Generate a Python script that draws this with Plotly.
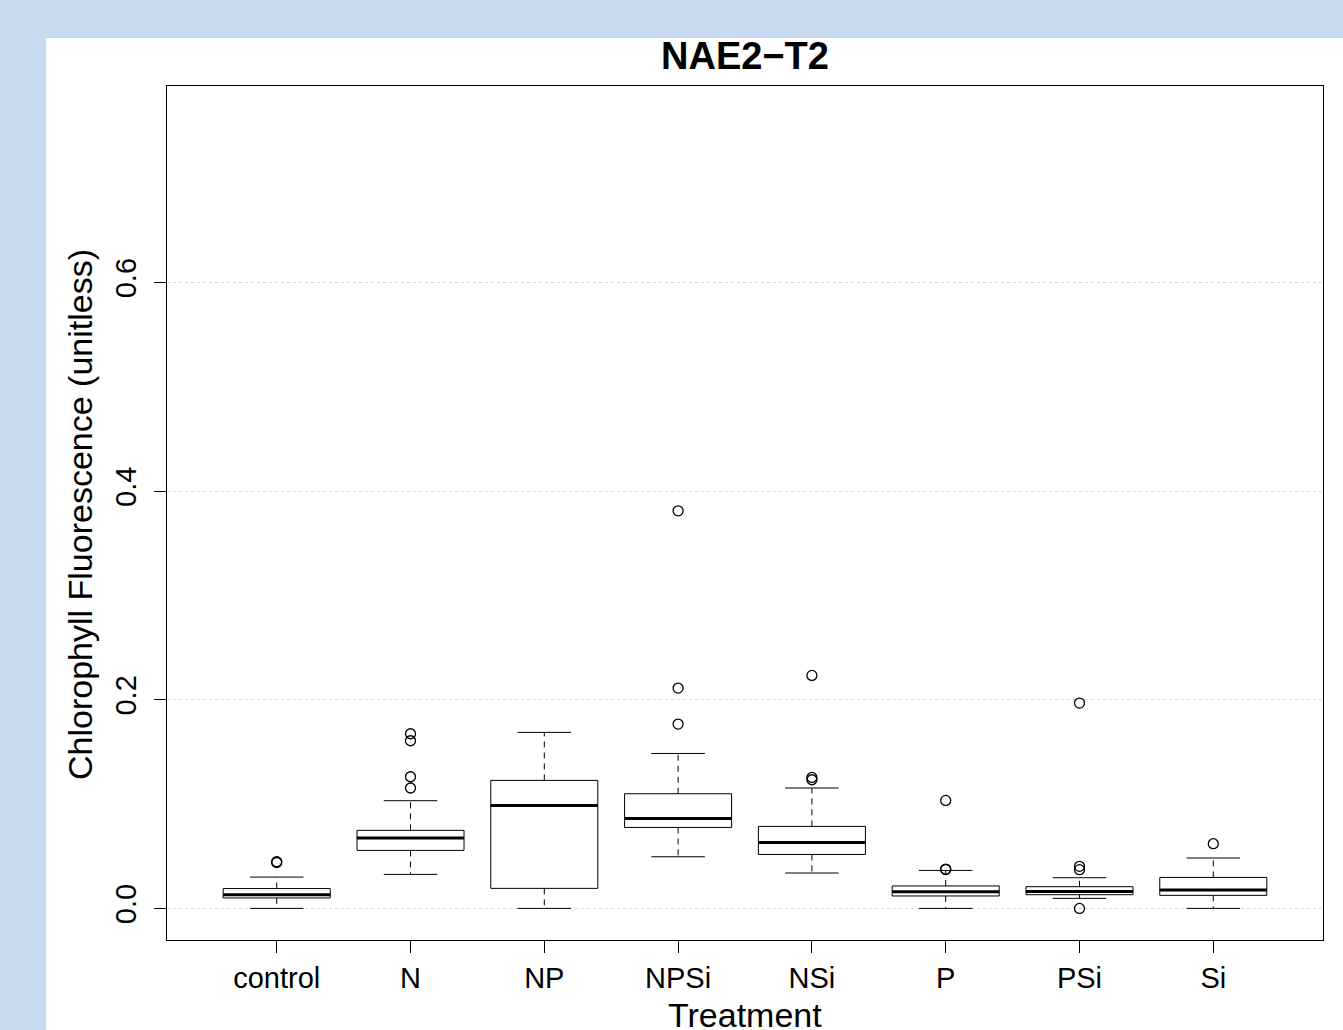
import plotly.graph_objects as go

categories = ["control", "N", "NP", "NPSi", "NSi", "P", "PSi", "Si"]
lower_whisker = [0.000, 0.0326, 0.000, 0.0495, 0.0339, 0.000, 0.0096, 0.000]
q1 = [0.0100, 0.0556, 0.0192, 0.0776, 0.0517, 0.0119, 0.0131, 0.0125]
median = [0.0130, 0.0675, 0.0987, 0.0862, 0.0632, 0.0160, 0.0163, 0.0176]
q3 = [0.0190, 0.0748, 0.1227, 0.1099, 0.0786, 0.0215, 0.0208, 0.0297]
upper_whisker = [0.0300, 0.1032, 0.1687, 0.1485, 0.1154, 0.0364, 0.0294, 0.0483]
outliers = {
    "control": [0.0440, 0.0448],
    "N": [0.1154, 0.1262, 0.1607, 0.1674],
    "NP": [],
    "NPSi": [0.1767, 0.2112, 0.3811],
    "NSi": [0.1233, 0.1255, 0.2233],
    "P": [0.0372, 0.0377, 0.1035],
    "PSi": [0.0000, 0.0371, 0.0403, 0.1968],
    "Si": [0.0620],
}
y_ticks = [0.0, 0.2, 0.4, 0.6]
y_tick_labels = ["0.0", "0.2", "0.4", "0.6"]

pos = list(range(1, len(categories) + 1))
BOX_HALF = 0.4
STAPLE_HALF = 0.2
FONT = "Liberation Sans, Arial, Helvetica, sans-serif"

fig = go.Figure()

# box bodies
fig.add_trace(go.Box(
    x=pos, q1=q1, median=median, q3=q3,
    lowerfence=q1, upperfence=q3,
    width=2 * BOX_HALF, whiskerwidth=0,
    line=dict(color="black", width=1), fillcolor="white",
    boxpoints=False, showlegend=False, hoverinfo="skip",
))

# whiskers (dashed)
wx, wy = [], []
for p, lo, a, b, hi in zip(pos, lower_whisker, q1, q3, upper_whisker):
    wx += [p, p, None, p, p, None]
    wy += [b, hi, None, a, lo, None]
fig.add_trace(go.Scatter(x=wx, y=wy, mode="lines",
                         line=dict(color="black", width=1, dash="6px,5px"),
                         showlegend=False, hoverinfo="skip"))

# staples
sx, sy = [], []
for p, lo, hi in zip(pos, lower_whisker, upper_whisker):
    sx += [p - STAPLE_HALF, p + STAPLE_HALF, None, p - STAPLE_HALF, p + STAPLE_HALF, None]
    sy += [hi, hi, None, lo, lo, None]
fig.add_trace(go.Scatter(x=sx, y=sy, mode="lines",
                         line=dict(color="black", width=1),
                         showlegend=False, hoverinfo="skip"))

# thick medians
mx, my = [], []
for p, m in zip(pos, median):
    mx += [p - BOX_HALF, p + BOX_HALF, None]
    my += [m, m, None]
fig.add_trace(go.Scatter(x=mx, y=my, mode="lines",
                         line=dict(color="black", width=3),
                         showlegend=False, hoverinfo="skip"))

# outliers
ox, oy = [], []
for p, c in zip(pos, categories):
    for v in outliers[c]:
        ox.append(p)
        oy.append(v)
fig.add_trace(go.Scatter(x=ox, y=oy, mode="markers",
                         marker=dict(symbol="circle-open", size=10, color="black",
                                     line=dict(width=1.3, color="black")),
                         showlegend=False))

fig.update_layout(
    width=1343, height=1030,
    margin=dict(l=167, r=20, t=86, b=90),
    paper_bgcolor="#c8daf0",
    plot_bgcolor="white",
    font=dict(family=FONT, color="black", size=29),
    showlegend=False,
    shapes=[dict(type="rect", xref="paper", yref="paper",
                 x0=(46 - 167) / 1156, x1=1.1, y0=-0.2, y1=1 + (86 - 38) / 854,
                 fillcolor="white", line=dict(width=0), layer="below")],
    annotations=[
        dict(text="<b>NAE2−T2</b>", xref="paper", yref="paper", x=0.5,
             y=1 + (86 - 56) / 854, xanchor="center", yanchor="middle",
             showarrow=False, font=dict(size=38, family=FONT)),
        dict(text="Treatment", xref="paper", yref="paper", x=0.5,
             y=1 - (1015 - 86) / 854, xanchor="center", yanchor="middle",
             showarrow=False, font=dict(size=34, family=FONT)),
        dict(text="Chlorophyll Fluorescence (unitless)", xref="paper", yref="paper",
             x=(80 - 167) / 1156, y=(940 - 515) / 854, xanchor="center", yanchor="middle",
             textangle=-90, showarrow=False, font=dict(size=34, family=FONT)),
    ],
)

fig.update_xaxes(
    range=[0.18, 8.82], tickvals=pos, ticktext=categories,
    showgrid=False, zeroline=False,
    showline=True, linecolor="black", linewidth=1, mirror=True,
    ticks="outside", ticklen=12, tickcolor="black", tickwidth=1,
    tickfont=dict(size=29, family=FONT),
)
fig.update_yaxes(
    range=[-0.0303, 0.7883], tickvals=y_ticks, ticktext=y_tick_labels,
    tickangle=-90, ticklabelstandoff=6,
    showgrid=True, gridcolor="#d6d6d6", griddash="dot", gridwidth=1,
    zeroline=False,
    showline=True, linecolor="black", linewidth=1, mirror=True,
    ticks="outside", ticklen=12, tickcolor="black", tickwidth=1,
    tickfont=dict(size=29, family=FONT),
)

fig.write_html("out.html")
